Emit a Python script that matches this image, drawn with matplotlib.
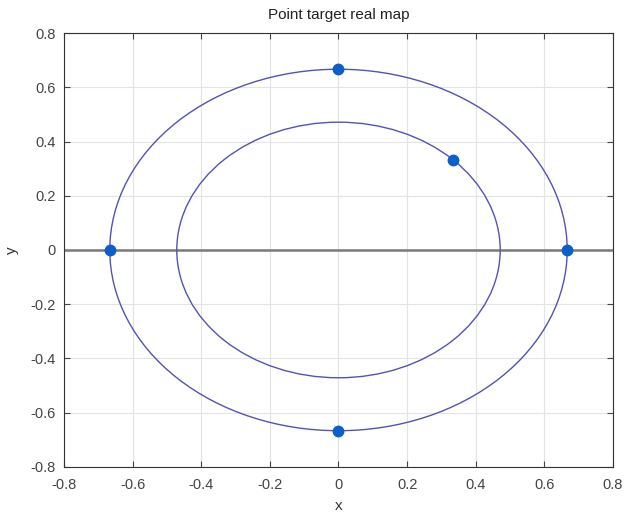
import matplotlib
matplotlib.use("Agg")
import matplotlib.pyplot as plt
from matplotlib.patches import Circle

plt.rcParams['font.family'] = ['Liberation Sans', 'DejaVu Sans']

# circle radii (outer and inner)
radii = [0.6667, 0.4714]

# target points
px = [0.0, 0.6667, 0.0, -0.6667, 0.3333]
py = [0.6667, 0.0, -0.6667, 0.0, 0.3333]

ticks = [-0.8, -0.6, -0.4, -0.2, 0, 0.2, 0.4, 0.6, 0.8]
tick_labels = ['-0.8', '-0.6', '-0.4', '-0.2', '0', '0.2', '0.4', '0.6', '0.8']

fig = plt.figure(figsize=(6.28, 5.17), dpi=100)
ax = fig.add_axes([0.102, 0.097, 0.874, 0.839])

for r in radii:
    ax.add_patch(Circle((0, 0), r, fill=False, edgecolor='#5252b8', linewidth=1.0, zorder=3))

ax.axhline(0, color='#7a7a7a', linewidth=1.8, zorder=2)

ax.plot(px, py, 'o', color='#0b5fc8', markersize=7.5, zorder=4)

ax.set_xlim(-0.8, 0.8)
ax.set_ylim(-0.8, 0.8)
ax.set_xticks(ticks)
ax.set_xticklabels(tick_labels)
ax.set_yticks(ticks)
ax.set_yticklabels(tick_labels)
ax.grid(True, color='#e3e3e3', linewidth=0.8)
ax.set_axisbelow(True)
ax.tick_params(direction='in', top=True, right=True, labelsize=10.5, colors='#444444', length=4)
ax.tick_params(axis='x', pad=8)
ax.tick_params(axis='y', pad=6)
for s in ax.spines.values():
    s.set_color('#333333')
    s.set_linewidth(0.8)

ax.set_title('Point target real map', fontsize=11, color='#222222', pad=10)
ax.set_xlabel('x', fontsize=11, color='#333333', labelpad=5)
ax.set_ylabel('y', fontsize=11, color='#333333', labelpad=8)

fig.savefig('out.png', dpi=100)
